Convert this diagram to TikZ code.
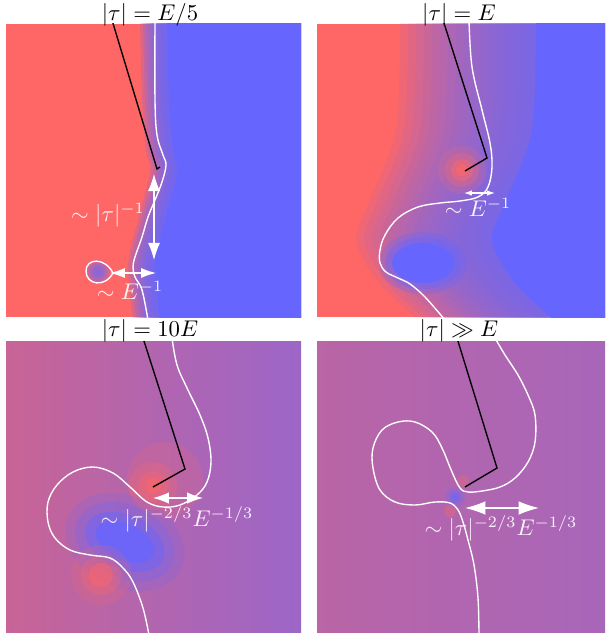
\documentclass[tikz,border=0pt]{standalone}
\usetikzlibrary{arrows.meta}
\definecolor{hot}{HTML}{FF6666}
\definecolor{cold}{HTML}{6666FF}
\definecolor{plumL}{HTML}{C86496}
\definecolor{plumM}{HTML}{B466AD}
\definecolor{plumR}{HTML}{9C66C8}
\definecolor{pinkish}{HTML}{B965A6}
\definecolor{bluish}{HTML}{A866B9}

\begin{document}
\begin{tikzpicture}[x=0.44pt,y=-0.44pt,
  ptitle/.style={text=black,inner sep=0pt},
  wtag/.style={text=white,text opacity=.92,inner sep=0pt},
  zeroline/.style={white,line width=.6pt},
  wire/.style={black,line width=.6pt},
  gapmark/.style 2 args={white,line width=.5pt,{Latex[length=#1,width=#2]}-{Latex[length=#1,width=#2]}}]
\useasboundingbox (0,0) rectangle (605,633);

% |tau| = E/5
\begin{scope}
\clip (6,24) rectangle (301,317);
\fill[hot] (6,24) rectangle (301,317);
\foreach \s in {0,3,...,24}
  \fill[cold,opacity=.22,shift={(\s,0)}] plot[smooth] coordinates {(140,20) (142,100) (146,150) (150,172) (138,220) (128,265) (133,320)} -- (330,320) -- (330,20) -- cycle;
\fill[cold,shift={(27,0)}] plot[smooth] coordinates {(140,20) (142,100) (146,150) (150,172) (138,220) (128,265) (133,320)} -- (330,320) -- (330,20) -- cycle;
\foreach \r in {12,9,6,3} \fill[cold,opacity=.3] (98,272) circle (\r);
\draw[zeroline] plot[smooth,tension=.6] coordinates {(155,20) (155,100) (157,135) (163,155) (166,165) (162,182) (155,200) (148,217) (142,237) (135,257) (133,267) (135,277) (142,290) (148,320)};
\draw[zeroline] (113,273) .. controls (105,257) and (86,258) .. (86,271) .. controls (86,285) and (105,288) .. (113,273);
\draw[wire] (112,20) -- (157,169) -- (160,167);
\end{scope}
\node[ptitle] (t1) at (150,14.5) {$|\tau| = E/5$};
\coordinate (v1a) at (154,174);
\coordinate (v1b) at (154,260);
\draw[gapmark={7.5pt}{5.3pt}] (v1a) -- (v1b);
\coordinate (h1a) at (110,273);
\coordinate (h1b) at (156,273);
\draw[gapmark={6.5pt}{4.4pt}] (h1a) -- (h1b);
\node[wtag] (l1a) at (108,215) {$\sim|\tau|^{-1}$};
\node[wtag] (l1b) at (130,290) {$\sim E^{-1}$};

% |tau| = E
\begin{scope}
\clip (317,24) rectangle (605,317);
\fill[hot] (317,24) rectangle (605,317);
\foreach \s in {0,8,...,128}
  \fill[cold,opacity=.1,shift={(\s,0)}] plot[smooth] coordinates {(400,20) (396,130) (370,200) (356,240) (378,282) (418,320)} -- (800,320) -- (800,20) -- cycle;
\fill[cold,shift={(136,0)}] plot[smooth] coordinates {(400,20) (396,130) (370,200) (356,240) (378,282) (418,320)} -- (800,320) -- (800,20) -- cycle;
\foreach \r/\o in {24/.2,17/.3,11/.45,6/.6} \fill[hot,opacity=\o] (462,170) circle (\r);
\fill[cold,opacity=.3] (423,263) ellipse [x radius=44,y radius=31];
\fill[cold,opacity=.4] (423,263) ellipse [x radius=38,y radius=26];
\fill[cold] (423,263) ellipse [x radius=31,y radius=20];
\draw[zeroline] plot[smooth,tension=.6] coordinates {(469,20) (472,67) (482,110) (490,143) (492,167) (488,187) (478,197) (460,201) (440,203) (418,207) (398,218) (385,235) (380,250) (380,263) (386,272) (398,278) (410,284) (425,297) (445,320)};
\draw[wire] (443,20) -- (487,158) -- (465,171);
\end{scope}
\node[ptitle] (t2) at (459,14.5) {$|\tau| = E$};
\coordinate (h2a) at (464,193);
\coordinate (h2b) at (495,193);
\draw[gapmark={3.5pt}{2.4pt}] (h2a) -- (h2b);
\node[wtag] (l2) at (478,207) {$\sim E^{-1}$};

% |tau| = 10E
\begin{scope}
\clip (6,341) rectangle (301,632);
\shade[left color=plumL,middle color=plumM,right color=plumR] (6,341) rectangle (301,632);
\fill[hot,opacity=.18] (165,480) circle (38);
\foreach \r/\o in {24/.25,15/.35,8/.55} \fill[hot,opacity=\o] (153,486) circle (\r);
\begin{scope}[rotate around={-25:(125,542)}]
\foreach \a/\b/\o in {62/46/.18,52/37/.25,42/27/.45,31/18/.75}
  \fill[cold,opacity=\o] (125,542) ellipse [x radius=\a,y radius=\b];
\end{scope}
\foreach \r/\o in {30/.18,20/.3,12/.5} \fill[hot,opacity=\o] (101,575) circle (\r);
\draw[zeroline] plot[smooth,tension=.6] coordinates {(172,338) (177,365) (187,388) (200,415) (208,438) (211,462) (207,482) (197,495) (180,505) (163,507) (147,502) (130,487) (113,473) (93,467) (73,472) (57,485) (48,502) (48,522) (55,538) (70,550) (90,555) (110,558) (123,568) (133,582) (143,608) (149,635)};
\draw[wire] (143,338) -- (185,469) -- (153,487);
\end{scope}
\node[ptitle] (t3) at (150,331) {$|\tau| = 10E$};
\coordinate (h3a) at (153,498);
\coordinate (h3b) at (203,498);
\draw[gapmark={7pt}{5pt}] (h3a) -- (h3b);
\node[wtag] (l3) at (177,519) {$\sim|\tau|^{-2/3}E^{-1/3}$};

% |tau| >> E
\begin{scope}
\clip (317,341) rectangle (605,632);
\shade[left color=pinkish,right color=bluish] (317,341) rectangle (605,632);
\foreach \r/\o in {10/.25,6/.4,3/.5} \fill[cold,opacity=\o] (455,497) circle (\r);
\fill[hot,opacity=.3] (463,481) circle (6);
\fill[hot,opacity=.35] (450,511) circle (6);
\draw[zeroline] plot[smooth,tension=.6] coordinates {(495,338) (505,355) (518,375) (528,395) (535,415) (535,442) (528,462) (515,478) (500,487) (482,491) (468,492) (460,488) (452,472) (442,448) (432,432) (415,422) (398,422) (382,430) (373,448) (373,468) (380,490) (395,502) (415,505) (435,502) (450,503) (458,510) (463,522) (468,540) (474,565) (478,598) (479,635)};
\draw[wire] (457,338) -- (497,468) -- (465,487);
\end{scope}
\node[ptitle] (t4) at (459,331) {$|\tau| \gg E$};
\coordinate (h4a) at (465,508);
\coordinate (h4b) at (539,508);
\draw[gapmark={9pt}{6pt}] (h4a) -- (h4b);
\node[wtag] (l4) at (501,528) {$\sim|\tau|^{-2/3}E^{-1/3}$};
\end{tikzpicture}
\end{document}
